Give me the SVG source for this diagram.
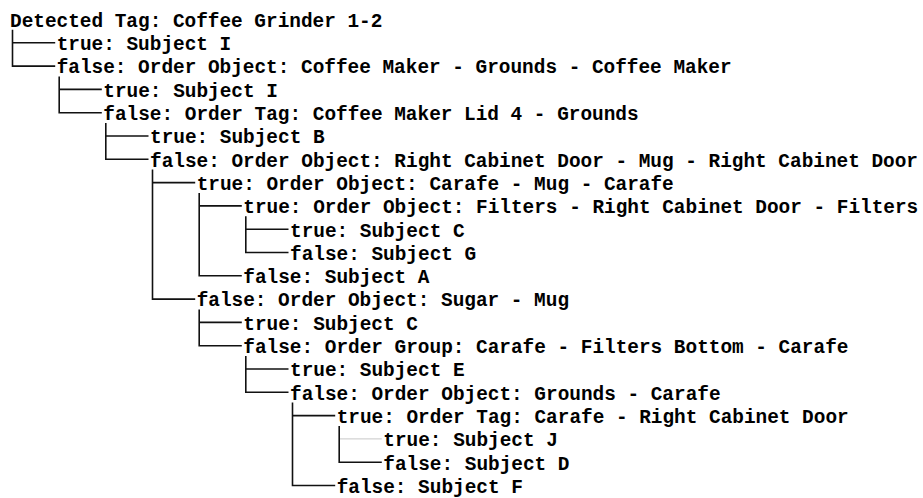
<svg xmlns="http://www.w3.org/2000/svg" width="923" height="498" viewBox="0 0 923 498">
<style>
text{font-family:"Liberation Mono","Courier New",monospace;font-weight:bold;font-size:19.4px;fill:#000;white-space:pre}
.e{fill:none;stroke:#111;stroke-width:1.6}
.f{fill:none;stroke:#c8c8c8;stroke-width:1}
</style>
<rect width="923" height="498" fill="#fff"/>
<g id="connectors">
<path class="e" d="M12.5 42.8H55.2"/>
<path class="e" d="M12.5 29.8V66.1H55.2"/>
<path class="e" d="M59.2 89.4H101.8"/>
<path class="e" d="M59.2 76.4V112.7H101.8"/>
<path class="e" d="M105.8 136H148.5"/>
<path class="e" d="M105.8 123V159.3H148.5"/>
<path class="e" d="M152.5 182.6H195.2"/>
<path class="e" d="M152.5 169.6V299.1H195.2"/>
<path class="e" d="M199.2 205.9H241.8"/>
<path class="e" d="M199.2 192.9V275.8H241.8"/>
<path class="e" d="M245.8 229.2H288.5"/>
<path class="e" d="M245.8 216.2V252.5H288.5"/>
<path class="e" d="M199.2 322.4H241.8"/>
<path class="e" d="M199.2 309.4V345.7H241.8"/>
<path class="e" d="M245.8 369H288.5"/>
<path class="e" d="M245.8 356V392.3H288.5"/>
<path class="e" d="M292.5 415.6H335.2"/>
<path class="e" d="M292.5 402.6V485.5H335.2"/>
<path class="f" d="M339.2 438.9H381.8"/>
<path class="e" d="M339.2 425.9V462.2H381.8"/>
</g>
<g id="n0"><text x="10" y="26.8">Detected Tag: Coffee Grinder 1-2</text></g>
<g id="n1"><text x="56.67" y="50.1">true: Subject I</text></g>
<g id="n2"><text x="56.67" y="73.4">false: Order Object: Coffee Maker - Grounds - Coffee Maker</text></g>
<g id="n3"><text x="103.33" y="96.7">true: Subject I</text></g>
<g id="n4"><text x="103.33" y="120">false: Order Tag: Coffee Maker Lid 4 - Grounds</text></g>
<g id="n5"><text x="150" y="143.3">true: Subject B</text></g>
<g id="n6"><text x="150" y="166.6">false: Order Object: Right Cabinet Door - Mug - Right Cabinet Door</text></g>
<g id="n7"><text x="196.67" y="189.9">true: Order Object: Carafe - Mug - Carafe</text></g>
<g id="n8"><text x="243.33" y="213.2">true: Order Object: Filters - Right Cabinet Door - Filters</text></g>
<g id="n9"><text x="290" y="236.5">true: Subject C</text></g>
<g id="n10"><text x="290" y="259.8">false: Subject G</text></g>
<g id="n11"><text x="243.33" y="283.1">false: Subject A</text></g>
<g id="n12"><text x="196.67" y="306.4">false: Order Object: Sugar - Mug</text></g>
<g id="n13"><text x="243.33" y="329.7">true: Subject C</text></g>
<g id="n14"><text x="243.33" y="353">false: Order Group: Carafe - Filters Bottom - Carafe</text></g>
<g id="n15"><text x="290" y="376.3">true: Subject E</text></g>
<g id="n16"><text x="290" y="399.6">false: Order Object: Grounds - Carafe</text></g>
<g id="n17"><text x="336.67" y="422.9">true: Order Tag: Carafe - Right Cabinet Door</text></g>
<g id="n18"><text x="383.33" y="446.2">true: Subject J</text></g>
<g id="n19"><text x="383.33" y="469.5">false: Subject D</text></g>
<g id="n20"><text x="336.67" y="492.8">false: Subject F</text></g>
</svg>
